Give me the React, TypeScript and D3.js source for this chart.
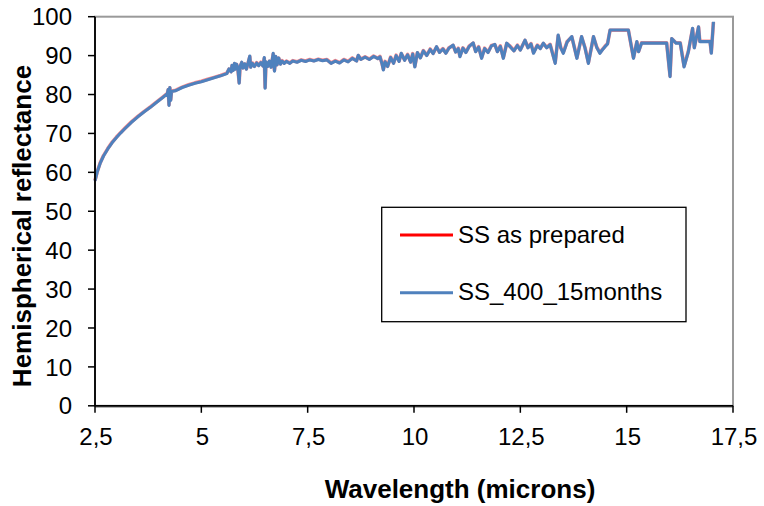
import React from "react";
import * as d3 from "d3";

const wavelengths = [
  2.5, 2.55, 2.62, 2.7, 2.8, 2.9, 3.0, 3.1, 3.2, 3.35, 3.5, 3.65, 3.8, 3.95, 4.1, 4.2, 4.22, 4.24, 4.26, 4.28, 4.3,
  4.4, 4.55, 4.7, 4.85, 5.0, 5.15, 5.3, 5.45, 5.6, 5.65, 5.7, 5.72, 5.75, 5.78, 5.8, 5.83, 5.86, 5.89, 5.91, 5.95,
  5.98, 6.02, 6.06, 6.1, 6.14, 6.16, 6.2, 6.25, 6.3, 6.35, 6.4, 6.45, 6.48, 6.5, 6.52, 6.56, 6.6, 6.64, 6.69, 6.72,
  6.75, 6.78, 6.82, 6.86, 6.9, 6.95, 7.0, 7.08, 7.15, 7.25, 7.35, 7.45, 7.55, 7.65, 7.75, 7.85, 7.95, 8.05, 8.15,
  8.25, 8.35, 8.45, 8.55, 8.65, 8.69, 8.75, 8.85, 8.95, 9.05, 9.15, 9.2, 9.25, 9.28, 9.32, 9.38, 9.45, 9.52, 9.58,
  9.65, 9.7, 9.78, 9.85, 9.92, 9.97, 10.02, 10.08, 10.15, 10.22, 10.3, 10.38, 10.45, 10.53, 10.6, 10.68, 10.75,
  10.82, 10.92, 10.98, 11.04, 11.08, 11.15, 11.22, 11.3, 11.39, 11.45, 11.52, 11.59, 11.66, 11.74, 11.82, 11.9,
  11.96, 12.03, 12.1, 12.18, 12.26, 12.35, 12.43, 12.5, 12.61, 12.68, 12.75, 12.81, 12.9, 12.97, 13.04, 13.12,
  13.2, 13.32, 13.39, 13.45, 13.51, 13.6, 13.71, 13.83, 13.94, 14.02, 14.1, 14.22, 14.3, 14.37, 14.43, 14.49,
  14.55, 14.61, 15.04, 15.16, 15.24, 15.28, 15.35, 15.94, 16.02, 16.06, 16.16, 16.26, 16.35, 16.45, 16.55, 16.59,
  16.69, 16.72, 16.96, 16.99, 17.04,
];

const agedValues = [
  57.8, 60.0, 62.3, 64.2, 66.0, 67.6, 68.9, 70.1, 71.2, 72.8, 74.2, 75.5, 76.7, 78.0, 79.3, 80.2, 81.3, 77.2, 81.8,
  78.5, 80.8, 81.0, 81.8, 82.4, 82.9, 83.3, 83.8, 84.3, 84.8, 85.4, 86.6, 85.8, 87.5, 86.2, 88.0, 86.5, 87.8, 86.4,
  82.9, 87.2, 88.3, 86.8, 87.9, 86.5, 88.2, 89.9, 87.0, 88.0, 87.2, 88.1, 87.4, 88.2, 87.3, 89.5, 81.6, 88.4, 87.2,
  88.6, 87.0, 90.6, 86.0, 89.8, 87.6, 89.4, 87.8, 88.6, 88.0, 88.5, 88.0, 88.6, 88.3, 88.8, 88.5, 88.9, 88.6, 89.0,
  88.7, 88.9, 88.0, 88.6, 88.1, 88.9, 88.4, 89.3, 88.6, 90.1, 89.0, 89.6, 89.0, 89.8, 89.2, 89.7, 87.8, 86.3, 88.4,
  87.2, 89.5, 88.0, 90.0, 88.5, 90.6, 88.8, 90.2, 88.3, 90.4, 87.1, 90.8, 89.4, 91.2, 90.0, 91.6, 90.5, 92.3, 90.8,
  91.7, 90.6, 91.9, 92.7, 90.9, 91.8, 89.7, 91.9, 90.8, 92.4, 93.3, 91.0, 92.2, 89.3, 91.8, 90.8, 92.5, 92.9, 91.0,
  92.4, 89.3, 93.2, 92.3, 91.2, 92.6, 91.4, 94.0, 92.0, 93.0, 90.6, 92.6, 91.8, 93.2, 92.0, 92.8, 88.0, 95.3, 92.0,
  90.6, 93.5, 94.9, 89.3, 94.9, 92.0, 88.0, 94.9, 92.0, 90.6, 91.5, 92.3, 93.0, 96.6, 96.6, 89.3, 93.6, 91.0, 93.2,
  93.2, 84.6, 94.4, 93.2, 93.2, 87.1, 91.0, 97.0, 92.0, 97.4, 93.6, 93.6, 90.6, 98.7,
];

const preparedValues = [
  57.9, 60.1, 62.4, 64.3, 66.1, 67.7, 69.0, 70.2, 71.3, 72.9, 74.3, 75.6, 76.8, 78.1, 79.4, 80.3, 81.2, 77.4, 81.7,
  78.7, 80.9, 81.1, 81.9, 82.5, 83.0, 83.4, 83.9, 84.4, 84.9, 85.5, 86.5, 85.9, 87.4, 86.3, 87.9, 86.6, 87.7, 86.5,
  83.1, 87.1, 88.2, 86.9, 87.8, 86.6, 88.1, 89.7, 87.1, 88.1, 87.3, 88.2, 87.5, 88.3, 87.4, 89.3, 81.8, 88.3, 87.3,
  88.5, 87.1, 90.4, 86.2, 89.7, 87.7, 89.3, 87.9, 88.7, 88.1, 88.6, 88.1, 88.7, 88.4, 88.9, 88.6, 89.0, 88.7, 89.1,
  88.8, 89.0, 88.1, 88.7, 88.2, 89.0, 88.5, 89.4, 88.7, 90.0, 89.1, 89.7, 89.1, 89.9, 89.3, 89.8, 87.9, 86.5, 88.5,
  87.3, 89.6, 88.1, 90.1, 88.6, 90.5, 88.9, 90.3, 88.4, 90.5, 87.3, 90.7, 89.5, 91.3, 90.1, 91.7, 90.6, 92.2, 90.9,
  91.8, 90.7, 92.0, 92.6, 91.0, 91.9, 89.9, 92.0, 90.9, 92.5, 93.2, 91.1, 92.3, 89.5, 91.9, 90.9, 92.6, 92.8, 91.1,
  92.5, 89.5, 93.1, 92.4, 91.3, 92.7, 91.5, 93.9, 92.1, 93.1, 90.8, 92.7, 91.9, 93.1, 92.1, 92.9, 88.2, 95.1, 92.1,
  90.8, 93.6, 94.8, 89.5, 94.8, 92.1, 88.2, 94.8, 92.1, 90.8, 91.6, 92.4, 93.1, 96.5, 96.5, 89.5, 93.5, 91.1, 93.3,
  93.3, 84.8, 94.3, 93.3, 93.3, 87.3, 91.1, 96.9, 92.1, 97.3, 93.7, 93.7, 90.8, 98.6,
];

const xTicks = [2.5, 5, 7.5, 10, 12.5, 15, 17.5];
const yTicks = [0, 10, 20, 30, 40, 50, 60, 70, 80, 90, 100];
const seriesNames = ["SS as prepared", "SS_400_15months"];
const xTitle = "Wavelength (microns)";
const yTitle = "Hemispherical reflectance";

const W = 764;
const H = 506;
const left = 95;
const right = 733;
const top = 16.7;
const bottom = 405.8;
const font = "'Liberation Sans', Arial, sans-serif";

export default function App() {
  const x = d3.scaleLinear().domain([2.5, 17.5]).range([left, right]);
  const y = d3.scaleLinear().domain([0, 100]).range([bottom, top]);
  const line = d3
    .line<[number, number]>()
    .x((d) => x(d[0]))
    .y((d) => y(d[1]));
  const red = wavelengths.map((w, i) => [w, preparedValues[i]] as [number, number]);
  const blue = wavelengths.map((w, i) => [w, agedValues[i]] as [number, number]);

  const fmt = (v: number) => String(v).replace(".", ",");

  return (
    <svg
      width={W}
      height={H}
      style={{ position: "absolute", left: 0, top: 0, background: "#fff" }}
      fontFamily={font}
    >
      <rect x={0} y={0} width={W} height={H} fill="#fff" />
      {/* plot border */}
      <rect x={left} y={top} width={right - left} height={bottom - top} fill="none" stroke="#9a9a9a" strokeWidth={2} />
      {/* series */}
      <path d={line(red) || ""} fill="none" stroke="#ff0000" strokeOpacity={0.45} strokeWidth={3.6} strokeLinejoin="round" />
      <path d={line(blue) || ""} fill="none" stroke="#4f81bd" strokeWidth={3.1} strokeLinejoin="round" />
      {/* axes */}
      <line x1={left} x2={right} y1={bottom + 1.5} y2={bottom + 1.5} stroke="#a0a0a0" strokeWidth={1} />
      <line x1={left} x2={right} y1={bottom} y2={bottom} stroke="#000" strokeWidth={1.8} />
      <line x1={left} x2={left} y1={top} y2={bottom} stroke="#000" strokeWidth={1.8} />
      {yTicks.map((t) => (
        <g key={"y" + t}>
          <line x1={left - 7} x2={left} y1={y(t)} y2={y(t)} stroke="#000" strokeWidth={1.5} />
          <text x={72} y={y(t)} dy="0.36em" textAnchor="end" fontSize={24} fill="#000">
            {t}
          </text>
        </g>
      ))}
      {xTicks.map((t) => (
        <g key={"x" + t}>
          <line x1={x(t)} x2={x(t)} y1={bottom} y2={bottom + 7} stroke="#000" strokeWidth={1.5} />
          <text x={x(t) + 1} y={445} textAnchor="middle" fontSize={24} fill="#000">
            {fmt(t)}
          </text>
        </g>
      ))}
      {/* titles */}
      <text x={460} y={498} textAnchor="middle" fontSize={26} fontWeight="bold" fill="#000">
        {xTitle}
      </text>
      <text
        transform={`translate(31,226) rotate(-90)`}
        textAnchor="middle"
        fontSize={26}
        fontWeight="bold"
        fill="#000"
      >
        {yTitle}
      </text>
      {/* legend */}
      <rect x={381.7} y={207.3} width={304.3} height={114.4} fill="#fff" stroke="#000" strokeWidth={1.3} />
      <line x1={400} x2={453} y1={235} y2={235} stroke="#ff0000" strokeWidth={3} />
      <text x={458} y={242.7} fontSize={24} fill="#000">
        {seriesNames[0]}
      </text>
      <line x1={400} x2={453} y1={292.7} y2={292.7} stroke="#4f81bd" strokeWidth={3} />
      <text x={458} y={300.4} fontSize={24} fill="#000">
        {seriesNames[1]}
      </text>
    </svg>
  );
}
